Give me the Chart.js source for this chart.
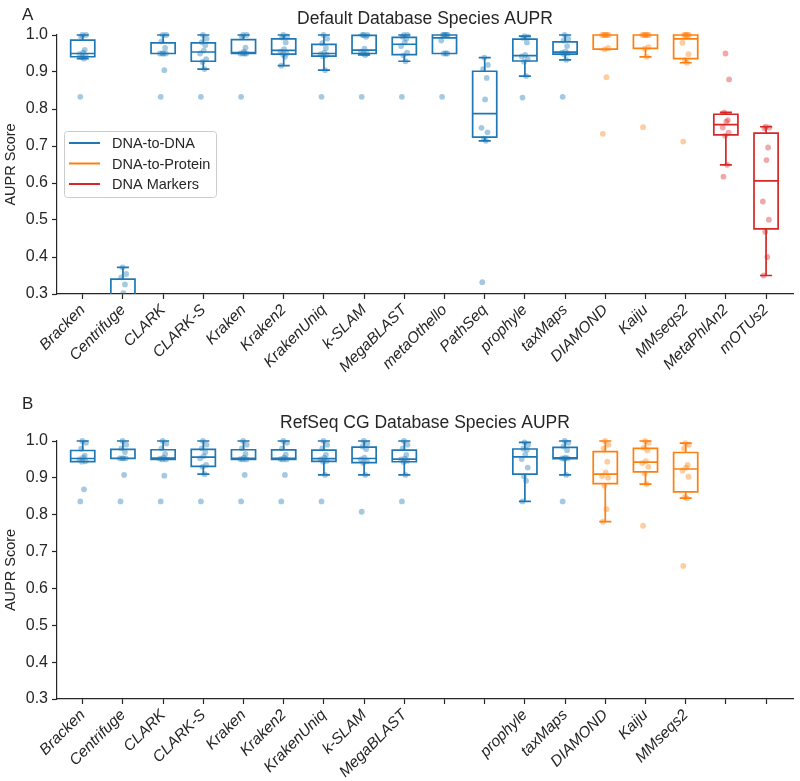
<!DOCTYPE html>
<html>
<head>
<meta charset="utf-8">
<script src="https://cdn.jsdelivr.net/npm/chart.js@4.4.0/dist/chart.umd.min.js"></script>
<style>
  html, body { margin: 0; padding: 0; background: #fff; }
  #wrap { position: relative; width: 800px; height: 781px; }
  canvas { position: absolute; left: 0; }
  #chartA { top: 0; }
  #chartB { top: 390px; }
</style>
</head>
<body>
<div id="wrap">
  <canvas id="chartA" width="800" height="390"></canvas>
  <canvas id="chartB" width="800" height="391"></canvas>
</div>
<script>
// Tools on the x axis and the group each one belongs to
const TOOLS = ['Bracken', 'Centrifuge', 'CLARK', 'CLARK-S', 'Kraken', 'Kraken2', 'KrakenUniq',
  'k-SLAM', 'MegaBLAST', 'metaOthello', 'PathSeq', 'prophyle', 'taxMaps',
  'DIAMOND', 'Kaiju', 'MMseqs2', 'MetaPhlAn2', 'mOTUs2'];
const TOOL_GROUP = [0, 0, 0, 0, 0, 0, 0, 0, 0, 0, 0, 0, 0, 1, 1, 1, 2, 2];
const GROUPS = ['DNA-to-DNA', 'DNA-to-Protein', 'DNA Markers'];
const Y_TICKS = [0.3, 0.4, 0.5, 0.6, 0.7, 0.8, 0.9, 1.0];

// Panel A: default database, one AUPR per sample (10 samples per tool)
const defaultAupr = [
  [0.833, 0.936, 0.94, 0.945, 0.948, 0.952, 0.96, 0.995, 1.0, 1.0],
  [0.15, 0.2, 0.24, 0.27, 0.29, 0.302, 0.326, 0.345, 0.354, 0.372],
  [0.833, 0.905, 0.95, 0.95, 0.95, 0.95, 0.965, 0.983, 1.0, 1.0],
  [0.833, 0.908, 0.927, 0.935, 0.95, 0.958, 0.972, 0.981, 0.99, 1.0],
  [0.833, 0.95, 0.95, 0.95, 0.95, 0.955, 0.966, 0.995, 1.0, 1.0],
  [0.917, 0.941, 0.948, 0.95, 0.955, 0.962, 0.98, 0.993, 0.996, 1.0],
  [0.833, 0.905, 0.942, 0.946, 0.948, 0.952, 0.965, 0.978, 0.99, 1.0],
  [0.833, 0.946, 0.95, 0.95, 0.955, 0.963, 0.995, 1.0, 1.0, 1.0],
  [0.833, 0.929, 0.945, 0.952, 0.97, 0.98, 0.99, 0.995, 1.0, 1.0],
  [0.833, 0.95, 0.95, 0.95, 0.985, 1.0, 1.0, 1.0, 1.0, 1.0],
  [0.332, 0.714, 0.72, 0.737, 0.749, 0.826, 0.884, 0.908, 0.919, 0.939],
  [0.831, 0.889, 0.928, 0.935, 0.942, 0.946, 0.98, 0.992, 0.995, 0.997],
  [0.833, 0.933, 0.948, 0.95, 0.952, 0.955, 0.97, 0.985, 0.99, 1.0],
  [0.733, 0.886, 0.961, 0.965, 1.0, 1.0, 1.0, 1.0, 1.0, 1.0],
  [0.751, 0.941, 0.963, 0.967, 1.0, 1.0, 1.0, 1.0, 1.0, 1.0],
  [0.712, 0.925, 0.932, 0.948, 0.979, 1.0, 1.0, 1.0, 1.0, 1.0],
  [0.617, 0.649, 0.728, 0.736, 0.75, 0.766, 0.77, 0.791, 0.88, 0.95],
  [0.35, 0.4, 0.468, 0.501, 0.55, 0.662, 0.696, 0.748, 0.75, 0.752]
];

// Panel B: RefSeq CG database (null = tool not run)
const refseqAupr = [
  [0.836, 0.869, 0.944, 0.945, 0.95, 0.955, 0.96, 0.979, 0.995, 1.0],
  [0.836, 0.908, 0.953, 0.953, 0.953, 0.953, 0.97, 0.98, 0.99, 1.0],
  [0.836, 0.906, 0.95, 0.95, 0.952, 0.955, 0.965, 0.98, 0.993, 1.0],
  [0.836, 0.91, 0.93, 0.935, 0.953, 0.959, 0.97, 0.98, 0.99, 1.0],
  [0.836, 0.908, 0.95, 0.95, 0.951, 0.955, 0.965, 0.98, 0.99, 1.0],
  [0.836, 0.908, 0.95, 0.95, 0.951, 0.955, 0.963, 0.98, 0.995, 1.0],
  [0.836, 0.908, 0.944, 0.946, 0.95, 0.954, 0.962, 0.98, 0.99, 1.0],
  [0.808, 0.908, 0.94, 0.945, 0.95, 0.955, 0.978, 0.985, 0.993, 1.0],
  [0.836, 0.908, 0.943, 0.946, 0.95, 0.952, 0.962, 0.98, 0.99, 1.0],
  null,
  null,
  [0.836, 0.892, 0.904, 0.928, 0.951, 0.963, 0.976, 0.979, 0.99, 0.996],
  [0.836, 0.908, 0.952, 0.953, 0.953, 0.955, 0.975, 0.985, 0.995, 1.0],
  [0.781, 0.815, 0.879, 0.9, 0.905, 0.915, 0.944, 0.98, 0.99, 1.0],
  [0.77, 0.883, 0.912, 0.93, 0.94, 0.945, 0.975, 0.982, 0.995, 1.0],
  [0.661, 0.845, 0.848, 0.903, 0.92, 0.928, 0.935, 0.98, 0.99, 0.994],
  null,
  null
];

const COLORS = ['#1f77b4', '#ff7f0e', '#d62728'];
const POINT_COLORS = ['rgba(31,119,180,0.4)', 'rgba(255,127,14,0.4)', 'rgba(214,39,40,0.4)'];
// fixed horizontal spread of the strip points, in category units
const JITTER = [-0.06, 0.03, -0.02, 0.07, -0.08, 0.01, 0.05, -0.04, 0.08, -0.01];
const FONT = "'Liberation Sans', Arial, Helvetica, sans-serif";
const INK = '#262626';

function quantile(sorted, q) {
  const pos = (sorted.length - 1) * q;
  const lo = Math.floor(pos), hi = Math.ceil(pos);
  return sorted[lo] + (sorted[hi] - sorted[lo]) * (pos - lo);
}

// matplotlib style box stats: linear quartiles, whiskers at 1.5 IQR
function boxStats(values) {
  const s = values.slice().sort((a, b) => a - b);
  const q1 = quantile(s, 0.25), med = quantile(s, 0.5), q3 = quantile(s, 0.75);
  const iqr = q3 - q1;
  const lo = Math.min(...s.filter(v => v >= q1 - 1.5 * iqr));
  const hi = Math.max(...s.filter(v => v <= q3 + 1.5 * iqr));
  return { q1, med, q3, lo, hi };
}

function boxPlugin(values) {
  return {
    id: 'boxes',
    beforeDatasetsDraw(chart) {
      const { ctx, chartArea, scales: { x, y } } = chart;
      ctx.save();
      ctx.beginPath();
      ctx.rect(chartArea.left, chartArea.top - 10, chartArea.width, chartArea.height + 10);
      ctx.clip();
      ctx.lineWidth = 1.7;
      values.forEach((vals, i) => {
        if (!vals) return;
        const s = boxStats(vals);
        const xc = x.getPixelForValue(i);
        const half = x.getPixelForValue(i + 0.3) - xc;
        const cap = half / 2;
        const py = v => y.getPixelForValue(v);
        ctx.strokeStyle = COLORS[TOOL_GROUP[i]];
        ctx.beginPath();
        ctx.rect(xc - half, py(s.q3), half * 2, py(s.q1) - py(s.q3));
        ctx.moveTo(xc - half, py(s.med)); ctx.lineTo(xc + half, py(s.med));
        ctx.moveTo(xc, py(s.q3)); ctx.lineTo(xc, py(s.hi));
        ctx.moveTo(xc - cap, py(s.hi)); ctx.lineTo(xc + cap, py(s.hi));
        ctx.moveTo(xc, py(s.q1)); ctx.lineTo(xc, py(s.lo));
        ctx.moveTo(xc - cap, py(s.lo)); ctx.lineTo(xc + cap, py(s.lo));
        ctx.stroke();
      });
      ctx.restore();
    }
  };
}

// panel letter and a title centred over the plot area
function headingPlugin(letter, letterBaseline, title, titleMiddle) {
  return {
    id: 'heading',
    afterDraw(chart) {
      const { ctx, chartArea } = chart;
      ctx.save();
      ctx.fillStyle = INK;
      ctx.font = '17px ' + FONT;
      ctx.textBaseline = 'alphabetic';
      ctx.fillText(letter, 22, letterBaseline);
      ctx.font = '17.5px ' + FONT;
      ctx.textAlign = 'center';
      ctx.textBaseline = 'middle';
      ctx.fillText(title, (chartArea.left + chartArea.right) / 2, titleMiddle);
      ctx.restore();
    }
  };
}

const legendPlugin = {
  id: 'groupLegend',
  afterDraw(chart) {
    const { ctx, chartArea } = chart;
    const left = chartArea.left + 7, top = chartArea.top + 96;
    const w = 152, h = 66;
    ctx.save();
    ctx.fillStyle = 'rgba(255,255,255,0.85)';
    ctx.strokeStyle = '#cccccc';
    ctx.lineWidth = 1;
    ctx.beginPath();
    ctx.roundRect(left + 0.5, top + 0.5, w, h, 3);
    ctx.fill();
    ctx.stroke();
    ctx.font = '14.5px ' + FONT;
    ctx.textBaseline = 'middle';
    GROUPS.forEach((g, i) => {
      const yy = top + 12 + i * 20.5;
      ctx.strokeStyle = COLORS[i];
      ctx.lineWidth = 2;
      ctx.beginPath();
      ctx.moveTo(left + 5, yy);
      ctx.lineTo(left + 36, yy);
      ctx.stroke();
      ctx.fillStyle = INK;
      ctx.fillText(g, left + 48, yy + 1);
    });
    ctx.restore();
  }
};

function makeChart(canvasId, values, layout, extraPlugins) {
  const datasets = GROUPS.map((g, gi) => {
    const pts = [];
    values.forEach((vals, i) => {
      if (!vals || TOOL_GROUP[i] !== gi) return;
      vals.forEach((v, j) => pts.push({ x: i + JITTER[j], y: v }));
    });
    return {
      label: g,
      data: pts,
      backgroundColor: POINT_COLORS[gi],
      borderWidth: 0,
      pointRadius: 2.9,
      clip: { left: 6, top: 6, right: 6, bottom: 0 }
    };
  });
  const axisLines = {
    grid: { drawOnChartArea: false, drawTicks: true, tickLength: 5, tickColor: INK, tickWidth: 1.2 },
    border: { display: true, color: INK, width: 1.2 }
  };
  return new Chart(document.getElementById(canvasId), {
    type: 'scatter',
    data: { datasets },
    options: {
      responsive: false,
      animation: false,
      layout: { padding: { left: 0, right: 7, top: layout.plotTop, bottom: 0 } },
      plugins: {
        legend: { display: false },
        tooltip: { enabled: false },
        title: { display: false }
      },
      scales: {
        x: {
          type: 'linear', min: -0.64, max: 17.67,
          afterBuildTicks: s => { s.ticks = TOOLS.map((_, i) => ({ value: i })); },
          afterFit: s => { s.height = layout.xHeight; },
          ticks: {
            autoSkip: false, minRotation: 45, maxRotation: 45, padding: 2, color: INK,
            font: { family: FONT, size: 15.5, style: 'italic' },
            callback: v => (values[v] ? TOOLS[v] : '')
          },
          ...axisLines
        },
        y: {
          min: 0.3, max: 1.0,
          afterBuildTicks: s => { s.ticks = Y_TICKS.map(v => ({ value: v })); },
          afterFit: s => { s.width = 57; },
          title: {
            display: true, text: 'AUPR Score', color: INK,
            font: { family: FONT, size: 14.5 }, padding: { top: 2, bottom: 0 }
          },
          ticks: { padding: 4, color: INK, font: { family: FONT, size: 16 }, callback: v => v.toFixed(1) },
          ...axisLines
        }
      }
    },
    plugins: [boxPlugin(values)].concat(extraPlugins)
  });
}

makeChart('chartA', defaultAupr, { plotTop: 35, xHeight: 96 },
  [headingPlugin('A', 20, 'Default Database Species AUPR', 19), legendPlugin]);

makeChart('chartB', refseqAupr, { plotTop: 51, xHeight: 82 },
  [headingPlugin('B', 19, 'RefSeq CG Database Species AUPR', 33)]);
</script>
</body>
</html>
